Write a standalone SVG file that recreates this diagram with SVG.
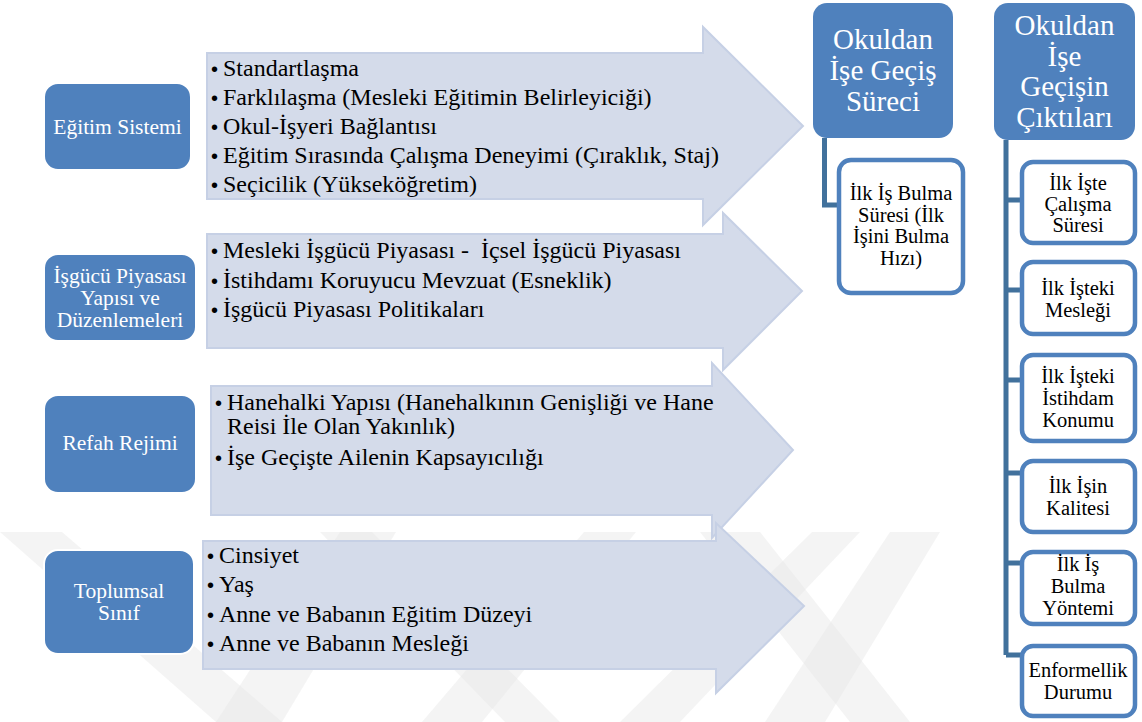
<svg xmlns="http://www.w3.org/2000/svg" width="1142" height="722" viewBox="0 0 1142 722">
  <style>
    .src { fill: #4F81BD; stroke: #FFFFFF; stroke-width: 2; }
    .src-t { font-family: "Liberation Serif", "Times New Roman", "DejaVu Serif", serif; font-size: 21.5px; fill: #FFFFFF; text-anchor: middle; }
    .arrow { fill: #D4DBEA; stroke: #C6D0E5; stroke-width: 2; }
    .item { font-family: "Liberation Serif", "Times New Roman", "DejaVu Serif", serif; font-size: 24px; fill: #000000; }
    .bul { font-family: "Liberation Sans", Arial, sans-serif; font-size: 20px; fill: #000000; }
    .head { fill: #4F81BD; }
    .head-t { font-family: "Liberation Serif", "Times New Roman", "DejaVu Serif", serif; font-size: 29px; fill: #FFFFFF; text-anchor: middle; }
    .leaf { fill: #FFFFFF; stroke: #4F81BD; stroke-width: 4.5; }
    .leaf-t { font-family: "Liberation Serif", "Times New Roman", "DejaVu Serif", serif; font-size: 20.5px; fill: #000000; text-anchor: middle; }
    .wire { fill: none; stroke: #41719C; stroke-width: 5; }
    .wm { fill: #E6E6E6; opacity: 0.45; }
  </style>

  <rect width="1142" height="722" fill="#FFFFFF"/>

  <!-- faint background emblem -->
  <g id="watermark">
    <polygon class="wm" points="0,532 62,532 282,722 216,722"/>
    <polygon class="wm" points="216,722 282,722 396,532 340,532"/>
    <polygon class="wm" points="320,532 372,532 560,722 505,722"/>
    <polygon class="wm" points="422,722 482,722 636,532 584,532"/>
    <polygon class="wm" points="620,722 680,722 860,532 812,532"/>
    <polygon class="wm" points="765,722 825,722 940,532 890,532"/>
    <polygon class="wm" points="700,532 760,532 910,722 850,722"/>
  </g>

  <!-- factor arrows -->
  <g id="arrow-egitim">
    <path class="arrow" d="M207,53 H703 V27 L803,126 L703,225 V199 H207 Z"/>
    <text class="bul" x="211" y="76">•</text><text class="item" x="223" y="76">Standartlaşma</text>
    <text class="bul" x="211" y="105">•</text><text class="item" x="223" y="105">Farklılaşma (Mesleki Eğitimin Belirleyiciği)</text>
    <text class="bul" x="211" y="134">•</text><text class="item" x="223" y="134">Okul-İşyeri Bağlantısı</text>
    <text class="bul" x="211" y="163">•</text><text class="item" x="223" y="163">Eğitim Sırasında Çalışma Deneyimi (Çıraklık, Staj)</text>
    <text class="bul" x="211" y="192">•</text><text class="item" x="223" y="192">Seçicilik (Yükseköğretim)</text>
  </g>
  <g id="arrow-isgucu">
    <path class="arrow" d="M207,234 H723 V213 L802,291 L723,370 V348 H207 Z"/>
    <text class="bul" x="211" y="258">•</text><text class="item" x="223" y="258" xml:space="preserve">Mesleki İşgücü Piyasası -  İçsel İşgücü Piyasası</text>
    <text class="bul" x="211" y="288">•</text><text class="item" x="223" y="288">İstihdamı Koruyucu Mevzuat (Esneklik)</text>
    <text class="bul" x="211" y="317">•</text><text class="item" x="223" y="317">İşgücü Piyasası Politikaları</text>
  </g>
  <g id="arrow-refah">
    <path class="arrow" d="M211,386 H712 V363 L793,450 L712,538 V515 H211 Z"/>
    <text class="bul" x="215" y="410">•</text><text class="item" x="227" y="410">Hanehalki Yapısı (Hanehalkının Genişliği ve Hane</text>
    <text class="item" x="227" y="434">Reisi İle Olan Yakınlık)</text>
    <text class="bul" x="215" y="465">•</text><text class="item" x="227" y="465">İşe Geçişte Ailenin Kapsayıcılığı</text>
  </g>
  <g id="arrow-sinif">
    <path class="arrow" d="M203,541 H716 V523 L804,606 L716,693 V669 H203 Z"/>
    <text class="bul" x="207" y="563">•</text><text class="item" x="219" y="563">Cinsiyet</text>
    <text class="bul" x="207" y="592">•</text><text class="item" x="219" y="592">Yaş</text>
    <text class="bul" x="207" y="622">•</text><text class="item" x="219" y="622">Anne ve Babanın Eğitim Düzeyi</text>
    <text class="bul" x="207" y="651">•</text><text class="item" x="219" y="651">Anne ve Babanın Mesleği</text>
  </g>

  <!-- factor boxes -->
  <g id="egitim-sistemi">
    <rect class="src" x="44" y="83" width="147" height="87" rx="14"/>
    <text class="src-t" x="117.5" y="134">Eğitim Sistemi</text>
  </g>
  <g id="isgucu-piyasasi">
    <rect class="src" x="44" y="254" width="152" height="87" rx="14"/>
    <text class="src-t" x="120" y="283">İşgücü Piyasası</text>
    <text class="src-t" x="120" y="305">Yapısı ve</text>
    <text class="src-t" x="120" y="327">Düzenlemeleri</text>
  </g>
  <g id="refah-rejimi">
    <rect class="src" x="44" y="395" width="152" height="98" rx="14"/>
    <text class="src-t" x="120" y="450">Refah Rejimi</text>
  </g>
  <g id="toplumsal-sinif">
    <rect class="src" x="44" y="550" width="150" height="104" rx="14" stroke-width="4"/>
    <text class="src-t" x="119" y="598">Toplumsal</text>
    <text class="src-t" x="119" y="620">Sınıf</text>
  </g>

  <!-- hierarchy lines -->
  <g id="connectors">
    <path class="wire" d="M824.5,138 V205 H839"/>
    <path class="wire" d="M1006,140 V655"/>
    <path class="wire" d="M1006,200 H1022 M1006,290 H1022 M1006,380 H1022 M1006,473 H1022 M1006,563 H1022 M1006,655 H1022"/>
  </g>

  <!-- transition process -->
  <g id="gecis-sureci">
    <rect class="head" x="813" y="3" width="140" height="135" rx="14"/>
    <text class="head-t" x="883" y="49">Okuldan</text>
    <text class="head-t" x="883" y="80">İşe Geçiş</text>
    <text class="head-t" x="883" y="111">Süreci</text>
  </g>
  <g id="is-bulma-suresi">
    <rect class="leaf" x="839" y="160" width="124" height="133" rx="12"/>
    <text class="leaf-t" x="901" y="200">İlk İş Bulma</text>
    <text class="leaf-t" x="901" y="222">Süresi (İlk</text>
    <text class="leaf-t" x="901" y="243">İşini Bulma</text>
    <text class="leaf-t" x="901" y="265">Hızı)</text>
  </g>

  <!-- transition outcomes -->
  <g id="gecis-ciktilari">
    <rect class="head" x="994" y="3" width="141" height="137" rx="14"/>
    <text class="head-t" x="1064.5" y="35">Okuldan</text>
    <text class="head-t" x="1064.5" y="65.5">İşe</text>
    <text class="head-t" x="1064.5" y="96">Geçişin</text>
    <text class="head-t" x="1064.5" y="126.5">Çıktıları</text>
  </g>
  <g id="calisma-suresi">
    <rect class="leaf" x="1022" y="162" width="113" height="81" rx="11"/>
    <text class="leaf-t" x="1078" y="190">İlk İşte</text>
    <text class="leaf-t" x="1078" y="211">Çalışma</text>
    <text class="leaf-t" x="1078" y="232">Süresi</text>
  </g>
  <g id="meslek">
    <rect class="leaf" x="1022" y="262" width="113" height="72" rx="11"/>
    <text class="leaf-t" x="1078" y="295">İlk İşteki</text>
    <text class="leaf-t" x="1078" y="317">Mesleği</text>
  </g>
  <g id="istihdam-konumu">
    <rect class="leaf" x="1022" y="355" width="113" height="86" rx="11"/>
    <text class="leaf-t" x="1078" y="383">İlk İşteki</text>
    <text class="leaf-t" x="1078" y="405">İstihdam</text>
    <text class="leaf-t" x="1078" y="427">Konumu</text>
  </g>
  <g id="is-kalitesi">
    <rect class="leaf" x="1022" y="461" width="113" height="71" rx="11"/>
    <text class="leaf-t" x="1078" y="493">İlk İşin</text>
    <text class="leaf-t" x="1078" y="515">Kalitesi</text>
  </g>
  <g id="bulma-yontemi">
    <rect class="leaf" x="1022" y="552" width="113" height="72" rx="11"/>
    <text class="leaf-t" x="1078" y="571">İlk İş</text>
    <text class="leaf-t" x="1078" y="593">Bulma</text>
    <text class="leaf-t" x="1078" y="615">Yöntemi</text>
  </g>
  <g id="enformellik">
    <rect class="leaf" x="1022" y="646" width="113" height="70" rx="11"/>
    <text class="leaf-t" x="1078" y="677">Enformellik</text>
    <text class="leaf-t" x="1078" y="699">Durumu</text>
  </g>
</svg>
